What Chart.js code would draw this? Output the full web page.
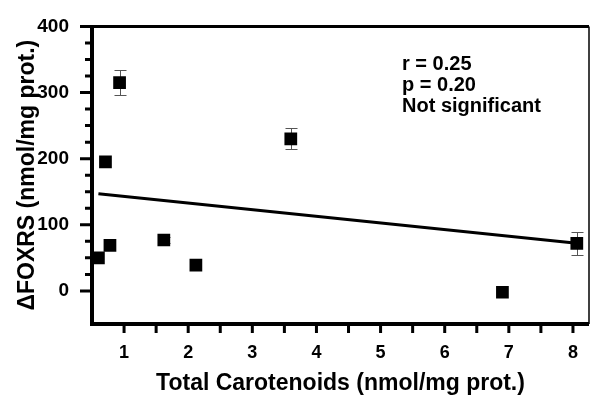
<!DOCTYPE html>
<html>
<head>
<meta charset="utf-8">
<script src="https://cdn.jsdelivr.net/npm/chart.js@4"></script>
<style>
  html, body { margin: 0; padding: 0; background: #fff; }
  #wrap { width: 598px; height: 399px; position: relative; }
</style>
</head>
<body>
<div id="wrap"><canvas id="chart"></canvas></div>
<script>
// measured points (total carotenoids vs delta FOXRS)
const carotenoids = [0.6, 0.71, 0.78, 0.93, 1.62, 2.12, 3.6, 6.9, 8.06];
const foxrs = [50, 195, 69, 315, 77, 39, 230, -2, 72];
const foxrsErr = [0, 0, 0, 19, 5, 0, 16, 0, 17];

// regression line end points
const fitX = [0.6, 8.06];
const fitY = [147, 72];

const xMajor = [1, 2, 3, 4, 5, 6, 7, 8];
const xMinor = [1.5, 2.5, 3.5, 4.5, 5.5, 6.5, 7.5];
const yMajor = [0, 100, 200, 300, 400];
const yMinor = [25, 50, 75, 125, 150, 175, 225, 250, 275, 325, 350, 375];

const statsText = ["r = 0.25", "p = 0.20", "Not significant"];

const FONT = "'Liberation Sans', Arial, Helvetica, sans-serif";

const errorBarPlugin = {
  id: "errorBars",
  beforeDatasetsDraw(chart) {
    const ctx = chart.ctx;
    const xs = chart.scales.x;
    const ys = chart.scales.y;
    ctx.save();
    ctx.strokeStyle = "#555";
    ctx.lineWidth = 1;
    carotenoids.forEach((cx, i) => {
      if (!foxrsErr[i]) return;
      const px = Math.round(xs.getPixelForValue(cx)) + 0.5;
      const top = Math.round(ys.getPixelForValue(foxrs[i] + foxrsErr[i])) + 0.5;
      const bot = Math.round(ys.getPixelForValue(foxrs[i] - foxrsErr[i])) + 0.5;
      ctx.beginPath();
      ctx.moveTo(px, top); ctx.lineTo(px, bot);
      ctx.moveTo(px - 6, top); ctx.lineTo(px + 6, top);
      ctx.moveTo(px - 6, bot); ctx.lineTo(px + 6, bot);
      ctx.stroke();
    });
    ctx.restore();
  },
};

const framePlugin = {
  id: "frame",
  afterDatasetsDraw(chart) {
    const ctx = chart.ctx;
    const a = chart.chartArea;
    const xs = chart.scales.x;
    const ys = chart.scales.y;
    ctx.save();

    // frame
    ctx.strokeStyle = "#000";
    ctx.lineWidth = 4;
    ctx.beginPath();
    ctx.moveTo(a.left, a.top);
    ctx.lineTo(a.left, a.bottom);
    ctx.lineTo(a.right, a.bottom);
    ctx.stroke();
    ctx.lineWidth = 3;
    ctx.beginPath();
    ctx.moveTo(a.left - 2, a.top);
    ctx.lineTo(a.right, a.top);
    ctx.stroke();
    ctx.lineWidth = 1.5;
    ctx.beginPath();
    ctx.moveTo(a.right, a.top);
    ctx.lineTo(a.right, a.bottom);
    ctx.stroke();

    // ticks
    ctx.lineWidth = 3;
    ctx.beginPath();
    xMajor.concat(xMinor).forEach(v => {
      const px = xs.getPixelForValue(v);
      ctx.moveTo(px, a.bottom);
      ctx.lineTo(px, a.bottom + 9);
    });
    yMajor.forEach(v => {
      const py = ys.getPixelForValue(v);
      ctx.moveTo(a.left, py);
      ctx.lineTo(a.left - 12, py);
    });
    yMinor.forEach(v => {
      const py = ys.getPixelForValue(v);
      ctx.moveTo(a.left, py);
      ctx.lineTo(a.left - 7, py);
    });
    ctx.stroke();

    // stats text
    ctx.fillStyle = "#000";
    ctx.font = "bold 20px " + FONT;
    ctx.textBaseline = "alphabetic";
    ctx.textAlign = "left";
    statsText.forEach((t, i) => {
      ctx.fillText(t, a.left + 310, a.top + 44 + i * 21);
    });
    ctx.restore();
  },
};

new Chart(document.getElementById("chart").getContext("2d"), {
  data: {
    datasets: [
      {
        type: "line",
        data: fitX.map((x, i) => ({ x: x, y: fitY[i] })),
        borderColor: "#000",
        borderWidth: 3,
        pointRadius: 0,
        fill: false,
        order: 2,
      },
      {
        type: "scatter",
        data: carotenoids.map((x, i) => ({ x: x, y: foxrs[i] })),
        pointStyle: "rect",
        pointRadius: 9,
        backgroundColor: "#000",
        borderColor: "#000",
        borderWidth: 0,
        order: 1,
      },
    ],
  },
  options: {
    responsive: true,
    maintainAspectRatio: false,
    animation: false,
    layout: { padding: { top: 23, right: 1, left: 0, bottom: 0 } },
    plugins: {
      legend: { display: false },
      tooltip: { enabled: false },
    },
    scales: {
      x: {
        type: "linear",
        min: 0.5,
        max: 8.25,
        afterBuildTicks: (scale) => {
          scale.ticks = xMajor.map(v => ({ value: v }));
        },
        afterFit: (scale) => { scale.height = 75; },
        grid: { display: false },
        border: { display: false },
        ticks: {
          padding: 10,
          color: "#000",
          font: { size: 18, weight: "bold", family: FONT },
        },
        title: {
          display: true,
          text: "Total Carotenoids (nmol/mg prot.)",
          color: "#000",
          padding: { top: 0, bottom: 2 },
          font: { size: 23, weight: "bold", family: FONT },
        },
      },
      y: {
        type: "linear",
        min: -50,
        max: 400,
        afterBuildTicks: (scale) => {
          scale.ticks = yMajor.map(v => ({ value: v }));
        },
        afterFit: (scale) => { scale.width = 92; },
        grid: { display: false },
        border: { display: false },
        ticks: {
          padding: 15,
          color: "#000",
          font: { size: 19, weight: "bold", family: FONT },
        },
        title: {
          display: true,
          text: "\u0394FOXRS (nmol/mg prot.)",
          color: "#000",
          padding: { top: 14, bottom: 0 },
          font: { size: 23, weight: "bold", family: FONT },
        },
      },
    },
  },
  plugins: [errorBarPlugin, framePlugin],
});
</script>
</body>
</html>
